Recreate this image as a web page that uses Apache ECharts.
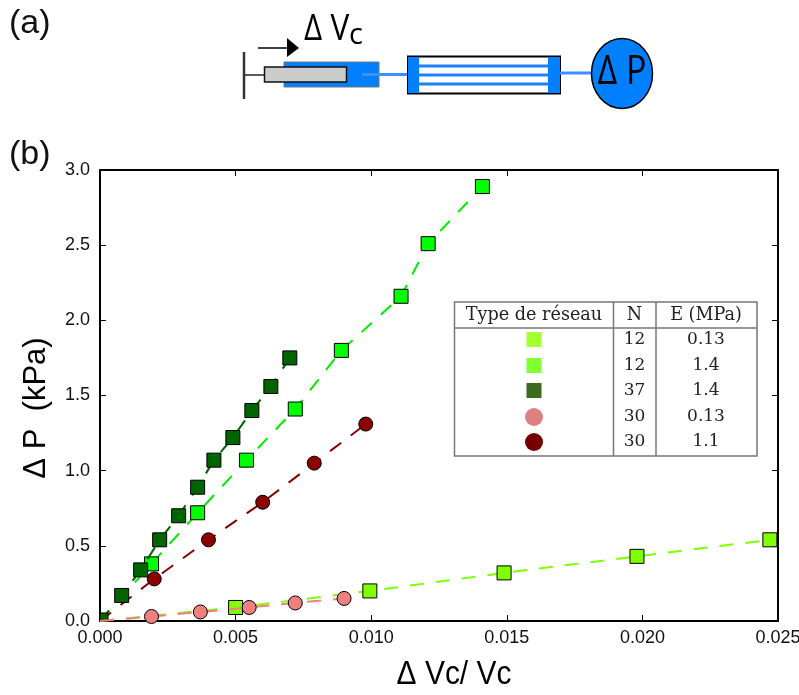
<!DOCTYPE html>
<html><head><meta charset="utf-8">
<style>html,body{margin:0;padding:0;background:#fff}#c{width:799px;height:695px}</style>
<script src="https://cdn.jsdelivr.net/npm/echarts@6/dist/echarts.min.js"></script>
</head><body><div id="c"></div>
<script>
var sans = '"Liberation Sans",sans-serif';
var xDarkGreen = [0,0.0008,0.0015,0.0022,0.0029,0.0036,0.0042,0.0049,0.0056,0.0063,0.0070];
var yDarkGreen = [0,0.17,0.34,0.54,0.70,0.89,1.07,1.22,1.40,1.56,1.75];
var xBright = [0,0.0019,0.0036,0.0054,0.0072,0.0089,0.0111,0.0121,0.0141];
var yBright = [0,0.38,0.72,1.07,1.41,1.80,2.16,2.51,2.89];
var xDarkRed = [0,0.0020,0.0040,0.0060,0.0079,0.0098];
var yDarkRed = [0,0.28,0.54,0.79,1.05,1.31];
var xPink = [0,0.0019,0.0037,0.0055,0.0072,0.0090];
var yPink = [0,0.03,0.06,0.09,0.12,0.15];
var xLime = [0,0.0050,0.00995,0.0149,0.0198,0.0247];
var yLime = [0,0.09,0.20,0.32,0.43,0.54];
var tableHeader = ['Type de réseau','N','E (MPa)'];
var tableN = ['12','12','37','30','30'];
var tableE = ['0.13','1.4','1.4','0.13','1.1'];
var tableColors = ['#a6ff33','#80ff33','#3b6b1f','#dc8080','#760000'];
var tableShapes = ['rect','rect','rect','circle','circle'];

function zip(a,b,originItem){return a.map(function(v,i){
  var p=[v,b[i]];
  if(v===0&&b[i]===0) return Object.assign({value:p},originItem);
  return p;});}
function ser(name,xs,ys,color,line,sym,size,z,originItem){
  return {name:name,type:'line',data:zip(xs,ys,originItem),symbol:sym,symbolSize:size,z:z,clip:true,
    lineStyle:{color:line,width:2,type:[14,12]},
    itemStyle:{color:color,borderColor:'#000',borderWidth:1,opacity:1},
    showSymbol:true,animation:false};
}
var g=[];
function rect(x,y,w,h,fill,stroke,lw){g.push({type:'rect',shape:{x:x,y:y,width:w,height:h},style:{fill:fill||'none',stroke:stroke||null,lineWidth:lw||0},silent:true});}
function line(x1,y1,x2,y2,stroke,lw){g.push({type:'line',shape:{x1:x1,y1:y1,x2:x2,y2:y2},style:{stroke:stroke,lineWidth:lw},silent:true});}
function text(x,y,t,font,color,align,sx){g.push({type:'text',x:x,y:y,scaleX:sx||1,style:{text:t,font:font,fill:color||'#000',textAlign:align||'left',textVerticalAlign:'middle'},silent:true});}

// panel labels
text(9,24,'(a)','34px '+sans,'#111');
text(9,155,'(b)','34px '+sans,'#111');
// syringe
line(244,52,244,99,'#333',2.5);
line(245,75,265,75,'#222',1.5);
rect(284,62,95,25,'#0080ff','#777',1);
rect(264.5,67,82,15,'#cccccc','#111',1.5);
line(362,74.5,408,74.5,'#3f8fff',3);
// capillary bundle
rect(408,56.5,152,37,'#fff','#000',2);
[66,75,84].forEach(function(y){line(419,y,548,y,'#1f80ff',3);});
rect(408,57,11,36,'#0080ff');
rect(548,57,12,36,'#0080ff');
line(560,73,592,73,'#3f8fff',3);
g.push({type:'ellipse',shape:{cx:622,cy:73.5,rx:30.5,ry:35},style:{fill:'#0080ff',stroke:'#000',lineWidth:1.5},silent:true});
text(622,73,'Δ P','40px "Open Sans",sans-serif','#000','center',0.85);
// arrow and label
line(258,48,287,48,'#000',1.5);
g.push({type:'polygon',shape:{points:[[287,38],[299,48],[287,57]]},style:{fill:'#000'},silent:true});
text(304,29,'Δ V','37px "Open Sans",sans-serif','#000','left',0.85);
text(349,36,'c','29px "Open Sans",sans-serif','#000');
// table
var tx0=454.5,tx1=757,ty0=302,ty1=456,colA=613.5,colB=656,rowY=[340,366,391,417,442];
rect(tx0,ty0,tx1-tx0,ty1-ty0,'#fff','#777',1.5);
line(tx0,328,tx1,328,'#777',1.5);
line(colA,ty0,colA,ty1,'#777',1.5);
line(colB,ty0,colB,ty1,'#777',1.5);
var tf='17px "DejaVu Serif","Liberation Serif",serif';
var tfh='17.6px "DejaVu Serif","Liberation Serif",serif';
text(534,315,tableHeader[0],tfh,'#222','center');
text(634.5,315,tableHeader[1],tfh,'#222','center');
text(706,315,tableHeader[2],tfh,'#222','center');
rowY.forEach(function(y,i){
  if(tableShapes[i]==='rect') rect(526.5,y-8,15,15,tableColors[i]);
  else g.push({type:'circle',shape:{cx:534,cy:y,r:9},style:{fill:tableColors[i]},silent:true});
  text(634.5,y,tableN[i],tf,'#222','center');
  text(706,y,tableE[i],tf,'#222','center');
});
// axis titles
g.push({type:'text',x:36,y:408,rotation:Math.PI/2,style:{text:'Δ P  (kPa)',font:'31px '+sans,fill:'#000',textAlign:'center',textVerticalAlign:'middle'},silent:true});
text(454,675,'Δ Vc/ Vc','34px '+sans,'#000','center',0.88);

var tickLabel={fontFamily:sans,fontSize:18,color:'#111'};
var cornerSquare={symbolSize:8,symbolOffset:[4,-4]};
var noSymbol={symbol:'none'};
var opt={
  animation:false,backgroundColor:'#fff',
  grid:{left:100,right:21,top:170,bottom:74,containLabel:false,outerBoundsMode:'none'},
  xAxis:[
   {type:'value',min:0,max:0.025,interval:0.005,position:'bottom',splitLine:{show:false},
    axisLine:{onZero:false,lineStyle:{color:'#000',width:2}},axisTick:{inside:true,length:6,lineStyle:{color:'#000',width:1}},
    axisLabel:Object.assign({margin:8,showMinLabel:true,showMaxLabel:true,hideOverlap:false,formatter:function(v){return v.toFixed(3);}},tickLabel)},
   {type:'value',min:0,max:0.025,interval:0.005,position:'top',splitLine:{show:false},
    axisLine:{onZero:false,lineStyle:{color:'#000',width:2}},axisTick:{inside:true,length:6,lineStyle:{color:'#000',width:1}},axisLabel:{show:false}}
  ],
  yAxis:[
   {type:'value',min:0,max:3,interval:0.5,position:'left',splitLine:{show:false},
    axisLine:{onZero:false,lineStyle:{color:'#000',width:2}},axisTick:{inside:true,length:6,lineStyle:{color:'#000',width:1}},
    axisLabel:Object.assign({margin:10,showMinLabel:true,showMaxLabel:true,formatter:function(v){return v.toFixed(1);}},tickLabel)},
   {type:'value',min:0,max:3,interval:0.5,position:'right',splitLine:{show:false},
    axisLine:{onZero:false,lineStyle:{color:'#000',width:2}},axisTick:{inside:true,length:6,lineStyle:{color:'#000',width:1}},axisLabel:{show:false}}
  ],
  series:[
   ser('N=12, E=0.13',xLime,yLime,'#7fff00','#7fff00','rect',14,2,noSymbol),
   ser('N=12, E=1.4',xBright,yBright,'#00ff00','#00ee00','rect',14,3,noSymbol),
   ser('N=30, E=1.1',xDarkRed,yDarkRed,'#8b0000','#8b0000','circle',14,4,noSymbol),
   ser('N=37, E=1.4',xDarkGreen,yDarkGreen,'#006400','#006400','rect',14,5,cornerSquare),
   ser('N=30, E=0.13',xPink,yPink,'#f08080','#f08080','circle',14,6,noSymbol)
  ],
  graphic:g
};
var chart=echarts.init(document.getElementById('c'),null,{renderer:'canvas'});
chart.setOption(opt);
</script></body></html>
